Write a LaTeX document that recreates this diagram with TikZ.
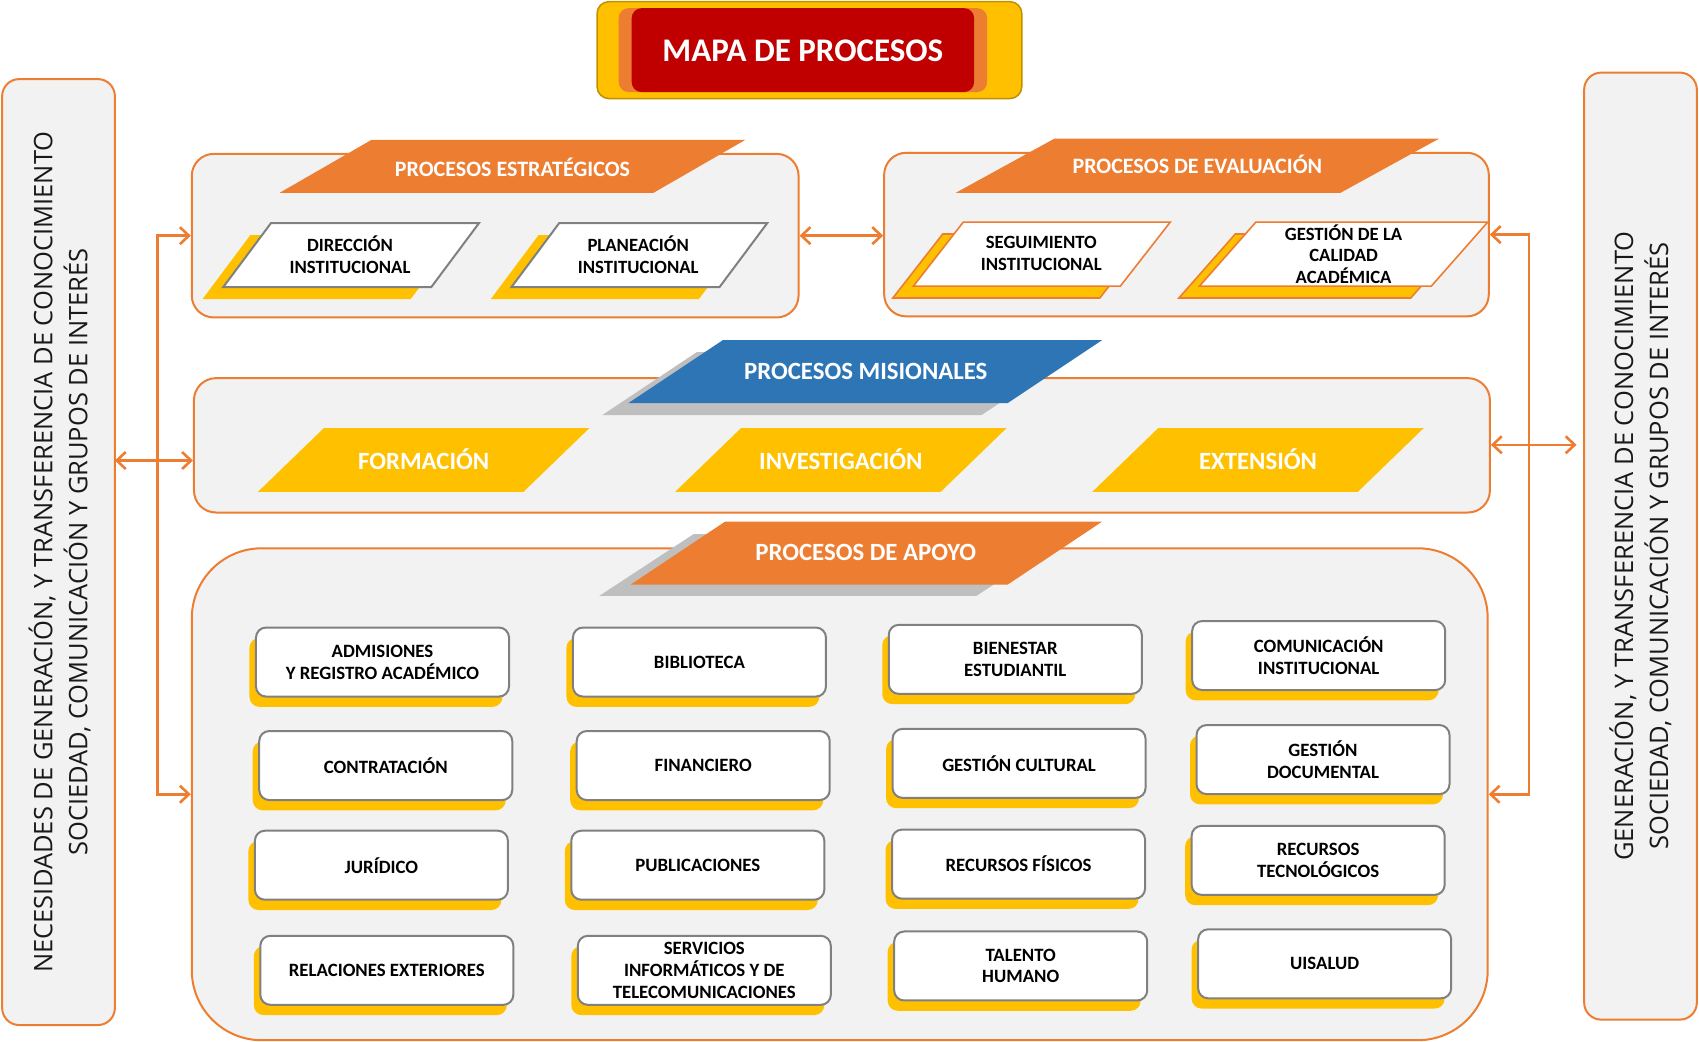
\documentclass[tikz,border=0pt]{standalone}
\usepackage{fontspec}
\setmainfont{Carlito}
\newfontfamily\sidefont{Open Sans}
\usetikzlibrary{arrows.meta,fit,calc}
\definecolor{orng}{HTML}{ED7D31}
\definecolor{yel}{HTML}{FFC000}
\definecolor{redc}{HTML}{C00000}
\definecolor{blu}{HTML}{2E75B6}
\definecolor{grays}{HTML}{BFBFBF}
\definecolor{lightg}{HTML}{F2F2F2}
\definecolor{bgray}{HTML}{808080}
\definecolor{tborder}{HTML}{BF9000}
\newcommand\supbox[4]{%
  \node[sbshadow] (#1s) at ($(#2,#3)+(-6,9.5)$) {};
  \node[sbox] (#1) at (#2,#3) {#4};}
\begin{document}
\begin{tikzpicture}[x=1.0835pt,y=-1.0835pt,
  cont/.style={draw=orng,line width=2pt,fill=lightg,rounded corners=22pt,inner sep=0pt},
  sidebox/.style={draw=orng,line width=2pt,fill=lightg,rounded corners=17pt,inner sep=0pt},
  sidetxt/.style={font=\sidefont\fontsize{25.5}{35}\selectfont,align=center,text=black!90,inner sep=0pt},
  arr/.style={draw=orng,line width=2.6pt,{Straight Barb[length=9pt,width=17pt]}-{Straight Barb[length=9pt,width=17pt]}},
  btxt/.style={font=\bfseries\fontsize{18.7}{21.7}\selectfont,align=center,text=black,inner sep=0pt},
  bantxt/.style={font=\bfseries\fontsize{22}{26}\selectfont,text=white,inner sep=0pt},
  bigtxt/.style={font=\bfseries\fontsize{24.8}{29}\selectfont,text=white,inner sep=0pt},
  sbox/.style={draw=bgray,line width=2pt,fill=white,rounded corners=10pt,minimum width=253pt,minimum height=69pt,inner sep=0pt,font=\bfseries\fontsize{18.8}{21.7}\selectfont,align=center},
  sbshadow/.style={fill=yel,rounded corners=10pt,minimum width=253pt,minimum height=69pt,inner sep=0pt},
  wpar/.style={fill=white,draw=bgray,line width=2pt},
  wparo/.style={fill=white,draw=orng,line width=1.6pt},
  ypar/.style={fill=yel},
  ypareo/.style={fill=yel,draw=orng,line width=1.6pt}
]
\useasboundingbox (0,0) rectangle (1568,961);

% title
\node[fill=yel,draw=tborder,line width=1.5pt,rounded corners=12pt,inner sep=0pt,fit={(551,1.5)(943,91)}] (tOuter) {};
\node[fill=orng,rounded corners=10pt,inner sep=0pt,fit={(571,7.5)(911,85)}] (tMid) {};
\node[fill=redc,rounded corners=10pt,inner sep=0pt,fit={(583,7.5)(899,85)}] (tIn) {};
\node[font=\bfseries\fontsize{33}{38}\selectfont,text=white,inner sep=0pt] (title) at (741,47) {MAPA DE PROCESOS};

% side boxes
\node[sidebox,fit={(2,73)(106,946)}] (L) {};
\node[sidetxt,rotate=90] (Ltxt) at ($(L.center)+(1,0)$) {NECESIDADES DE GENERACIÓN, Y TRANSFERENCIA DE CONOCIMIENTO\\SOCIEDAD, COMUNICACIÓN Y GRUPOS DE INTERÉS};
\node[sidebox,fit={(1462,67)(1566,941)}] (R) {};
\node[sidetxt,rotate=90] (Rtxt) at ($(R.center)+(0,0)$) {GENERACIÓN, Y TRANSFERENCIA DE CONOCIMIENTO\\SOCIEDAD, COMUNICACIÓN Y GRUPOS DE INTERÉS};

% containers
\node[cont,fit={(177,142)(737,293)}] (estr) {};
\node[cont,fit={(816,141)(1374,292)}] (eval) {};
\node[cont,fit={(179,349)(1375,473)}] (mis) {};
\node[cont,rounded corners=70pt,fit={(177,506)(1373,960)}] (apoyo) {};

% estrategicos banner
\path[fill=orng] (343,129) -- ++(345,0) -- ++(-85,49) -- ++(-345,0) -- cycle;
\node[bantxt] (estrT) at (473,154) {PROCESOS ESTRATÉGICOS};
\path[ypar] (231,217) -- ++(192,0) -- ++(-44,59) -- ++(-192,0) -- cycle;
\path[wpar] (250,206) -- ++(192,0) -- ++(-44,59) -- ++(-192,0) -- cycle;
\node[btxt] (dir) at (323,235) {DIRECCIÓN\\INSTITUCIONAL};
\path[ypar] (497,217) -- ++(192,0) -- ++(-44,59) -- ++(-192,0) -- cycle;
\path[wpar] (516,206) -- ++(192,0) -- ++(-44,59) -- ++(-192,0) -- cycle;
\node[btxt] (plan) at (589,235) {PLANEACIÓN\\INSTITUCIONAL};

% evaluacion banner
\path[fill=orng] (973,128) -- ++(355,0) -- ++(-91,50) -- ++(-355,0) -- cycle;
\node[bantxt] (evalT) at (1105,152) {PROCESOS DE EVALUACIÓN};
\path[ypareo] (870,216) -- ++(191,0) -- ++(-46,59) -- ++(-191,0) -- cycle;
\path[wparo] (889,205) -- ++(191,0) -- ++(-46,59) -- ++(-191,0) -- cycle;
\node[btxt] (seg) at (961,234) {SEGUIMIENTO\\INSTITUCIONAL};
\path[ypareo] (1140,216) -- ++(214,0) -- ++(-52,59) -- ++(-214,0) -- cycle;
\path[wparo] (1159,205) -- ++(214,0) -- ++(-52,59) -- ++(-214,0) -- cycle;
\node[btxt] (gca) at (1240,234.5) {GESTIÓN DE LA\\CALIDAD\\ACADÉMICA};

% misionales
\path[fill=grays] (643,325) -- ++(350,0) -- ++(-87,58) -- ++(-350,0) -- cycle;
\path[fill=blu] (667,314) -- ++(350,0) -- ++(-87,58) -- ++(-350,0) -- cycle;
\node[bigtxt] (misT) at (799,343) {PROCESOS MISIONALES};
\path[fill=yel] (299,395) -- ++(245,0) -- ++(-61,59) -- ++(-245,0) -- cycle;
\node[bigtxt] (form) at (391,424) {FORMACIÓN};
\path[fill=yel] (684,395) -- ++(245,0) -- ++(-61,59) -- ++(-245,0) -- cycle;
\node[bigtxt] (inv) at (776,424) {INVESTIGACIÓN};
\path[fill=yel] (1069,395) -- ++(245,0) -- ++(-61,59) -- ++(-245,0) -- cycle;
\node[bigtxt] (ext) at (1161,424) {EXTENSIÓN};

% apoyo
\path[fill=grays] (640,493) -- ++(348,0) -- ++(-87,57) -- ++(-348,0) -- cycle;
\path[fill=orng] (669,481.5) -- ++(348,0) -- ++(-87,58) -- ++(-348,0) -- cycle;
\node[bigtxt] (apoyoT) at (799,510) {PROCESOS DE APOYO};

\supbox{adm}{353}{611}{ADMISIONES\\Y REGISTRO ACADÉMICO}
\supbox{bib}{645.5}{611}{BIBLIOTECA}
\supbox{bien}{937}{608.5}{BIENESTAR\\ESTUDIANTIL}
\supbox{com}{1217}{605}{COMUNICACIÓN\\INSTITUCIONAL}
\supbox{contr}{356}{706.5}{CONTRATACIÓN}
\supbox{fin}{649}{706.5}{FINANCIERO}
\supbox{gcul}{940.5}{704.5}{GESTIÓN CULTURAL}
\supbox{gdoc}{1221}{701}{GESTIÓN\\DOCUMENTAL}
\supbox{jur}{352}{798.5}{JURÍDICO}
\supbox{pub}{644}{798.5}{PUBLICACIONES}
\supbox{rf}{940}{797.5}{RECURSOS FÍSICOS}
\supbox{rt}{1216.5}{794}{RECURSOS\\TECNOLÓGICOS}
\supbox{rel}{357}{895.5}{RELACIONES EXTERIORES}
\supbox{serv}{650}{895.5}{SERVICIOS\\INFORMÁTICOS Y DE\\TELECOMUNICACIONES}
\supbox{tal}{942}{891.5}{TALENTO\\HUMANO}
\supbox{uis}{1222.5}{889.5}{UISALUD}

% connectors
\coordinate (lA) at (106,425);
\draw[arr] (lA) -- (lA -| mis.west);
\draw[arr] (estr.west) -- ++(-31,0) |- (apoyo.west);
\draw[arr] (estr.east) -- (estr.east -| eval.west);
\draw[arr] (eval.east) -- ++(36,0) |- (apoyo.east);
\coordinate (rA) at (1455,410.5);
\draw[arr] (rA -| mis.east) -- (rA);
\end{tikzpicture}
\end{document}
